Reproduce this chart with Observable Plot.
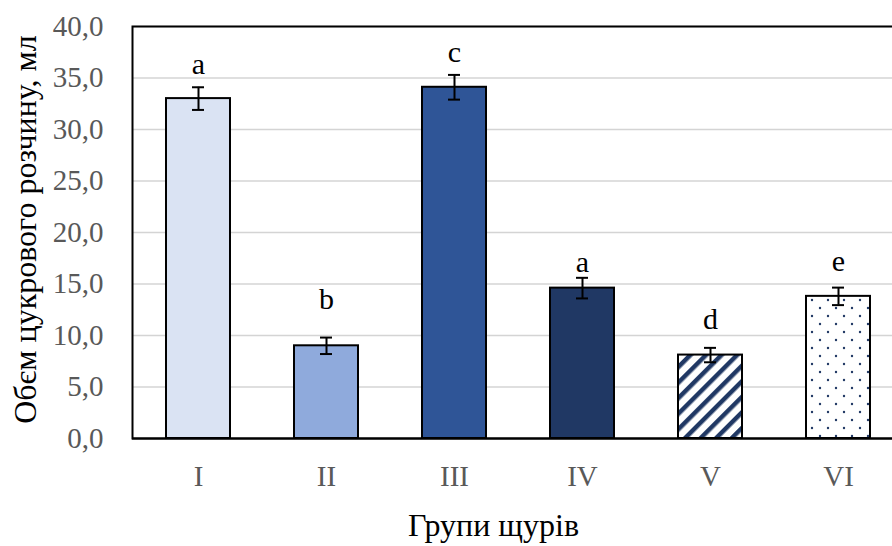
<!DOCTYPE html>
<html>
<head>
<meta charset="utf-8">
<script src="https://cdn.jsdelivr.net/npm/d3@7"></script>
<script src="https://cdn.jsdelivr.net/npm/@observablehq/plot@0.6"></script>
<style>
  html, body { margin: 0; padding: 0; background: #fff; }
  #chart svg { display: block; }
</style>
</head>
<body>
<div id="chart"></div>
<script>
// ---- data ----
const groups = ["I", "II", "III", "IV", "V", "VI"];
const volumes = [33.0, 9.0, 34.1, 14.6, 8.1, 13.8];
const errors = [1.1, 0.8, 1.2, 1.0, 0.7, 0.85];
const letters = ["a", "b", "c", "a", "d", "e"];
const letterLevels = [36.3, 13.5, 37.5, 17.1, 11.6, 17.2];
const fills = ["#dae3f3", "#8faadc", "#2f5597", "#203864", "url(#stripes)", "url(#dots)"];
const yTicks = [0, 5, 10, 15, 20, 25, 30, 35, 40];
const yTitle = "Обєм цукрового розчину, мл";
const xTitle = "Групи щурів";

const rows = groups.map((g, i) => ({
  group: g, v: volumes[i], e: errors[i], lo: volumes[i] - errors[i], hi: volumes[i] + errors[i],
  letter: letters[i], ly: letterLevels[i], fill: fills[i]
}));

const fmt = d => d.toFixed(1).replace(".", ",");
const serif = "'Liberation Serif', 'Times New Roman', serif";

const plot = Plot.plot({
  width: 892,
  height: 546,
  marginTop: 26,
  marginBottom: 108,
  marginLeft: 132,
  marginRight: -12,
  style: { fontFamily: serif, background: "#fff" },
  x: { domain: groups, paddingInner: 0.5, paddingOuter: 0.25, label: null },
  y: { domain: [0, 40], label: null },
  color: { type: "identity" },
  marks: [
    Plot.gridY(yTicks, { stroke: "#d4d4d4", strokeOpacity: 1, strokeWidth: 1.5 }),
    Plot.frame({ stroke: "#000", strokeWidth: 2 }),
    Plot.barY(rows, { x: "group", y: "v", fill: "fill", stroke: "#000", strokeWidth: 2 }),
    Plot.ruleX(rows, { x: "group", y1: "lo", y2: "hi", stroke: "#000", strokeWidth: 2 }),
    Plot.tickY(rows, { x: "group", y: "lo", stroke: "#000", strokeWidth: 2, inset: 26 }),
    Plot.tickY(rows, { x: "group", y: "hi", stroke: "#000", strokeWidth: 2, inset: 26 }),
    Plot.text(rows, { x: "group", y: "ly", text: "letter", fontSize: 30, fill: "#000", fontFamily: serif }),
    Plot.ruleY([0], { stroke: "#000", strokeWidth: 2 }),
    Plot.axisY(yTicks, { tickSize: 0, tickPadding: 29, tickFormat: fmt, fontSize: 29, fill: "#595959", label: null }),
    Plot.axisX({ tickSize: 0, tickPadding: 27, fontSize: 29, fill: "#595959", label: null }),
    Plot.text([yTitle], { frameAnchor: "left", textAnchor: "middle", dx: -107, dy: -3, rotate: -90, fontSize: 32, fill: "#000", fontFamily: serif }),
    Plot.text([xTitle], { frameAnchor: "bottom", textAnchor: "middle", dx: -25, dy: 97, fontSize: 32, fill: "#000", fontFamily: serif })
  ]
});

const svg = d3.select(plot);
const defs = svg.insert("defs", ":first-child");
const stripes = defs.append("pattern")
  .attr("id", "stripes").attr("patternUnits", "userSpaceOnUse")
  .attr("width", 11).attr("height", 11)
  .attr("patternTransform", "rotate(45)");
stripes.append("rect").attr("width", 11).attr("height", 11).attr("fill", "#fff");
stripes.append("rect").attr("width", 4.5).attr("height", 11).attr("fill", "#203864");
const dots = defs.append("pattern")
  .attr("id", "dots").attr("patternUnits", "userSpaceOnUse")
  .attr("width", 16).attr("height", 16);
dots.append("rect").attr("width", 16).attr("height", 16).attr("fill", "#fff");
dots.append("circle").attr("cx", 4).attr("cy", 4).attr("r", 1.2).attr("fill", "#203864");
dots.append("circle").attr("cx", 12).attr("cy", 12).attr("r", 1.2).attr("fill", "#203864");

document.getElementById("chart").appendChild(plot);
</script>
</body>
</html>
